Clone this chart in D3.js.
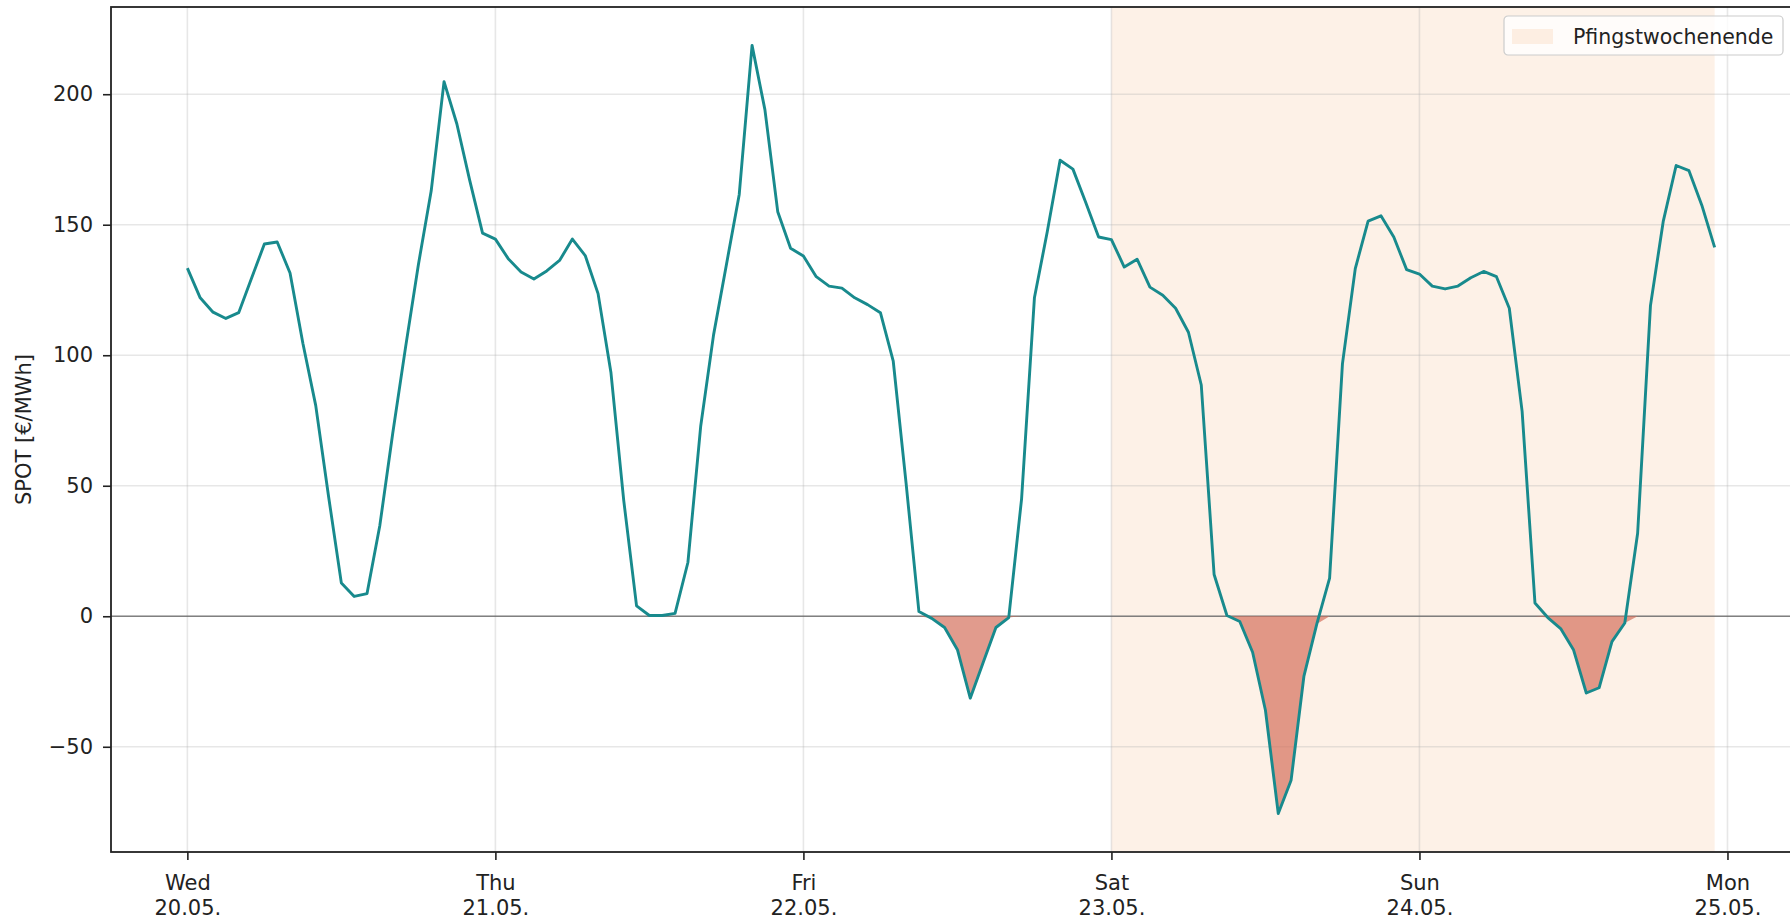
<!DOCTYPE html>
<html>
<head>
<meta charset="utf-8">
<script src="https://cdn.jsdelivr.net/npm/d3@7"></script>
<style>
  body { margin: 0; background: #fff; }
  svg { display: block; font-family: "DejaVu Sans", sans-serif; }
</style>
</head>
<body>
<svg width="1790" height="921"></svg>
<script>
// hourly day-ahead prices, Wed 20.05. 00:00 .. Sun 24.05. 23:00
var startDate = "2026-05-20T00:00:00Z";
var spotWed = [133.4, 122, 116.5, 114.1, 116.3, 129.5, 142.6, 143.4, 131.5, 104.6, 80.8, 46,
               12.7, 7.6, 8.7, 34.9, 70, 103, 134.7, 163, 204.8, 188.6, 167, 146.8];
var spotThu = [144.5, 137, 131.9, 129.2, 132.3, 136.3, 144.5, 138.2, 123.6, 93.5, 44.4, 4,
               0.3, 0.3, 1.1, 20.6, 72.9, 107.8, 134.7, 161.6, 218.7, 194.1, 155, 141];
var spotFri = [138, 130.1, 126.5, 125.7, 122, 119.4, 116.3, 97.7, 51, 1.8, -0.8, -4.3,
               -12.8, -31.4, -17.8, -4.3, -0.5, 45, 122, 147.3, 174.7, 171.3, 158.5, 145.3];
var spotSat = [144.3, 133.8, 136.8, 126.1, 123, 118, 108.8, 88.6, 16, 0.3, -2, -13.8,
               -36, -75.6, -62.8, -22.9, -3, 14.6, 96.7, 133.2, 151.4, 153.4, 145.3, 132.8];
var spotSun = [131.1, 126.5, 125.4, 126.5, 129.7, 132.1, 130.1, 118, 78.5, 5.1, -0.5, -4.7,
               -12.8, -29.4, -27.4, -9.7, -2.6, 31.8, 119, 151.4, 172.7, 170.7, 157.5, 141.3];
var yTicks = [-50, 0, 50, 100, 150, 200];
var weekendLabel = "Pfingstwochenende";
var weekendFrom = "2026-05-23T00:00:00Z";
var weekendTo = "2026-05-24T23:00:00Z";

var svg = d3.select("svg"),
    plotL = 111, plotR = 1791, plotT = 7, plotB = 852;

var t0 = new Date(startDate);
var values = spotWed.concat(spotThu, spotFri, spotSat, spotSun);
var data = values.map(function(v, i) { return { t: d3.utcHour.offset(t0, i), v: v }; });

// matplotlib style 5% margins
var tExt = d3.extent(data, function(d) { return +d.t; });
var tPad = (tExt[1] - tExt[0]) * 0.05;
var vExt = d3.extent(data, function(d) { return d.v; });
var vPad = (vExt[1] - vExt[0]) * 0.05;

var x = d3.scaleUtc()
    .domain([new Date(tExt[0] - tPad), new Date(tExt[1] + tPad)])
    .range([plotL, plotR]);
var y = d3.scaleLinear()
    .domain([vExt[0] - vPad, vExt[1] + vPad])
    .range([plotB, plotT]);

var days = d3.utcDay.range(d3.utcDay.ceil(x.domain()[0]), x.domain()[1]);

// weekend span
svg.append("rect")
    .attr("x", x(new Date(weekendFrom)))
    .attr("y", plotT)
    .attr("width", x(new Date(weekendTo)) - x(new Date(weekendFrom)))
    .attr("height", plotB - plotT)
    .attr("fill", "sandybrown")
    .attr("fill-opacity", 0.15);

// grid
svg.append("g").selectAll("line")
    .data(days)
    .enter().append("line")
    .attr("x1", function(d) { return x(d); })
    .attr("x2", function(d) { return x(d); })
    .attr("y1", plotT).attr("y2", plotB)
    .attr("stroke", "#b0b0b0").attr("stroke-opacity", 0.3).attr("stroke-width", 1.6);
svg.append("g").selectAll("line")
    .data(yTicks)
    .enter().append("line")
    .attr("x1", plotL).attr("x2", plotR)
    .attr("y1", function(d) { return y(d); })
    .attr("y2", function(d) { return y(d); })
    .attr("stroke", "#b0b0b0").attr("stroke-opacity", 0.3).attr("stroke-width", 1.6);

// zero line
svg.append("line")
    .attr("x1", plotL).attr("x2", plotR)
    .attr("y1", y(0)).attr("y2", y(0))
    .attr("stroke", "#666").attr("stroke-opacity", 0.8).attr("stroke-width", 1.5);

// negative prices filled
var area = d3.area()
    .x(function(d) { return x(d.t); })
    .y0(y(0))
    .y1(function(d) { return y(Math.min(0, d.v)); });
svg.append("path")
    .datum(data)
    .attr("d", area)
    .attr("fill", "#d4705d")
    .attr("fill-opacity", 0.7);

var line = d3.line()
    .x(function(d) { return x(d.t); })
    .y(function(d) { return y(d.v); });
svg.append("path")
    .datum(data)
    .attr("d", line)
    .attr("fill", "none")
    .attr("stroke", "#188a8d")
    .attr("stroke-width", 2.9)
    .attr("stroke-linejoin", "round");

// axes
var yAxis = svg.append("g")
    .attr("transform", "translate(" + plotL + ",0)")
    .call(d3.axisLeft(y).tickValues(yTicks).tickSize(8).tickPadding(10)
        .tickFormat(function(d) { return d < 0 ? "\u2212" + Math.abs(d) : d; }));
yAxis.select(".domain").remove();
yAxis.selectAll("line").attr("stroke", "#222").attr("stroke-width", 1.6);
yAxis.selectAll("text").attr("font-size", 21).attr("fill", "#222")
    .attr("font-family", "DejaVu Sans");

var xAxis = svg.append("g")
    .attr("transform", "translate(0," + plotB + ")")
    .call(d3.axisBottom(x).tickValues(days).tickSize(8).tickFormat(""));
xAxis.select(".domain").remove();
xAxis.selectAll("line").attr("stroke", "#222").attr("stroke-width", 1.6);
var fmtDay = d3.utcFormat("%a"), fmtDate = d3.utcFormat("%d.%m.");
xAxis.selectAll(".tick").append("text")
    .attr("text-anchor", "middle")
    .attr("font-size", 21)
    .attr("fill", "#222")
    .attr("font-family", "DejaVu Sans")
    .each(function(d) {
        var t = d3.select(this);
        t.append("tspan").attr("x", 0).attr("y", 38).text(fmtDay(d));
        t.append("tspan").attr("x", 0).attr("y", 63).text(fmtDate(d));
    });

// y label
svg.append("text")
    .attr("transform", "translate(31," + ((plotT + plotB) / 2) + ") rotate(-90)")
    .attr("text-anchor", "middle")
    .attr("font-size", 21)
    .attr("fill", "#222")
    .text("SPOT [\u20AC/MWh]");

// frame
svg.append("rect")
    .attr("x", plotL).attr("y", plotT)
    .attr("width", plotR - plotL).attr("height", plotB - plotT)
    .attr("fill", "none")
    .attr("stroke", "#222")
    .attr("stroke-width", 1.8);

// legend
var lg = svg.append("g").attr("transform", "translate(1504,16)");
lg.append("rect")
    .attr("width", 279).attr("height", 39).attr("rx", 4)
    .attr("fill", "#fff").attr("fill-opacity", 0.8)
    .attr("stroke", "#ccc").attr("stroke-width", 1.2);
lg.append("rect")
    .attr("x", 8).attr("y", 13).attr("width", 41).attr("height", 15)
    .attr("fill", "sandybrown").attr("fill-opacity", 0.15);
lg.append("text")
    .attr("x", 69).attr("y", 28)
    .attr("font-size", 20.5)
    .attr("fill", "#222")
    .text(weekendLabel);
</script>
</body>
</html>
